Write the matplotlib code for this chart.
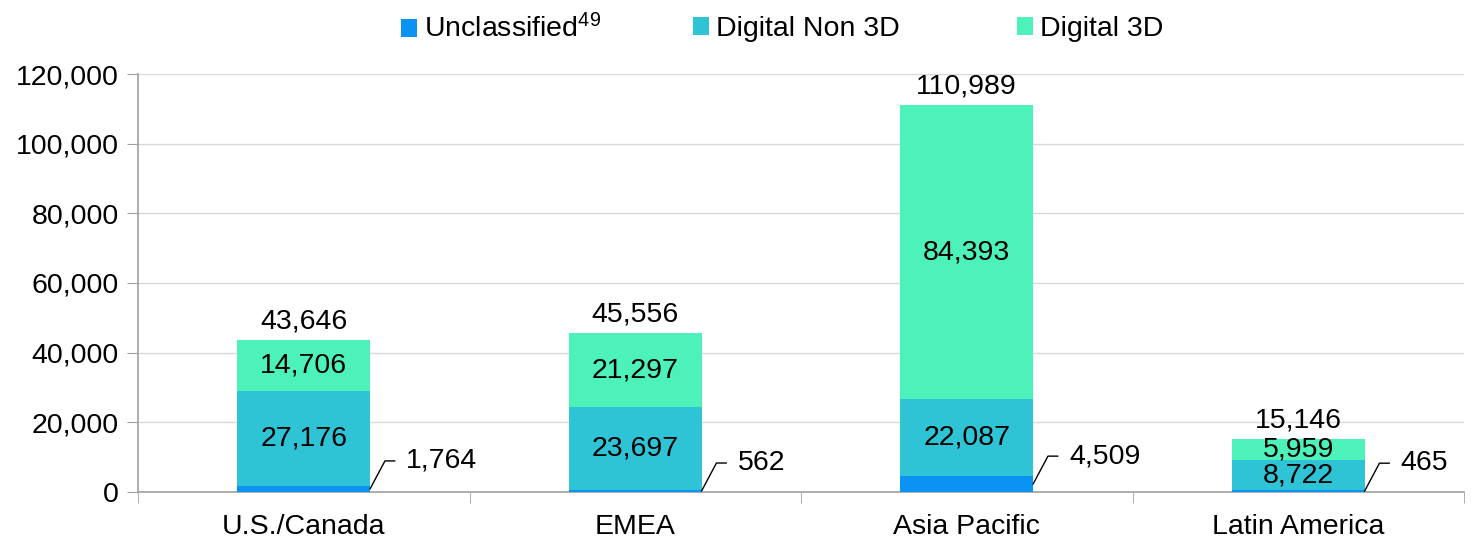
import numpy as np
import matplotlib
matplotlib.use("Agg")
import matplotlib.pyplot as plt
from matplotlib.ticker import FuncFormatter, FixedLocator

plt.rcParams["font.family"] = ["Liberation Sans", "DejaVu Sans"]
plt.rcParams["mathtext.fontset"] = "custom"
plt.rcParams["mathtext.rm"] = "Liberation Sans"
plt.rcParams["mathtext.it"] = "Liberation Sans"

# ─── DATA ──────────────────────────────────────────────────────────────────────
regions = ["U.S./Canada", "EMEA", "Asia Pacific", "Latin America"]
unclassified = [1764, 562, 4509, 465]
digital_non3d = [27176, 23697, 22087, 8722]
digital_3d = [14706, 21297, 84393, 5959]
totals = [43646, 45556, 110989, 15146]
series_names = ["Unclassified$^{49}$", "Digital Non 3D", "Digital 3D"]

C_UNCL = "#0A93F3"
C_NON3D = "#2EC4D6"
C_3D = "#4CF2B9"
AXIS_GREY = "#A0A0A0"
GRID_GREY = "#D9D9D9"
FS = 20.5

fig = plt.figure(figsize=(14.73, 5.41), dpi=100)
ax = fig.add_axes([138 / 1473, 49 / 541, 1326 / 1473, 418 / 541])

x = np.arange(len(regions))
w = 0.4
uncl = np.array(unclassified)
non3d = np.array(digital_non3d)
d3 = np.array(digital_3d)

b1 = ax.bar(x, uncl, width=w, color=C_UNCL, label=series_names[0], zorder=3)
b2 = ax.bar(x, non3d, width=w, bottom=uncl, color=C_NON3D, label=series_names[1], zorder=3)
b3 = ax.bar(x, d3, width=w, bottom=uncl + non3d, color=C_3D, label=series_names[2], zorder=3)

# segment labels
for i in range(len(regions)):
    ax.text(x[i], uncl[i] + non3d[i] / 2, f"{non3d[i]:,}", ha="center", va="center",
            fontsize=FS, zorder=4)
    ax.text(x[i], uncl[i] + non3d[i] + d3[i] / 2, f"{d3[i]:,}", ha="center", va="center",
            fontsize=FS, zorder=4)
    ax.annotate(f"{totals[i]:,}", xy=(x[i], totals[i]), xytext=(0, 4),
                textcoords="offset points", ha="center", va="bottom", fontsize=FS)
    # leader-line label for the unclassified slice
    ax.annotate(f"{uncl[i]:,}", xy=(x[i] + w / 2, uncl[i] / 2), xytext=(36, 28),
                textcoords="offset pixels", ha="left", va="center", fontsize=FS,
                arrowprops=dict(arrowstyle="-", color="black", lw=1,
                                connectionstyle="angle,angleA=0,angleB=62,rad=0",
                                shrinkA=6, shrinkB=0, relpos=(0, 0.5)))

# axes styling
ax.set_xlim(-0.5, len(regions) - 0.5)
ax.set_ylim(0, 120000)
ax.set_yticks(np.arange(0, 120001, 20000))
ax.yaxis.set_major_formatter(FuncFormatter(lambda v, p: f"{int(v):,}"))
ax.yaxis.grid(True, color=GRID_GREY, lw=1, zorder=0)
ax.set_axisbelow(True)

ax.set_xticks(x)
ax.set_xticklabels(regions, fontsize=FS)
ax.tick_params(axis="x", which="major", length=0, pad=16)
ax.xaxis.set_minor_locator(FixedLocator(np.arange(-0.5, len(regions), 1.0)))
ax.tick_params(axis="x", which="minor", length=8, color=AXIS_GREY, direction="out")
ax.tick_params(axis="y", labelsize=FS, length=8, color=AXIS_GREY, pad=6)

for side in ["top", "right"]:
    ax.spines[side].set_visible(False)
for side in ["left", "bottom"]:
    ax.spines[side].set_color(AXIS_GREY)
    ax.spines[side].set_linewidth(1.2)

# legend entries placed one by one (uneven spacing as in the source)
legend_x = [401, 693, 1017]
for h, name, lx in zip([b1, b2, b3], series_names, legend_x):
    fig.legend(handles=[h], labels=[name], loc="center left",
               bbox_to_anchor=(lx / 1473, 1 - 29 / 541), frameon=False,
               fontsize=FS, handlelength=0.55, handleheight=0.6, handletextpad=0.25,
               borderpad=0, borderaxespad=0)

plt.savefig("out.png", dpi=100)
plt.close()
